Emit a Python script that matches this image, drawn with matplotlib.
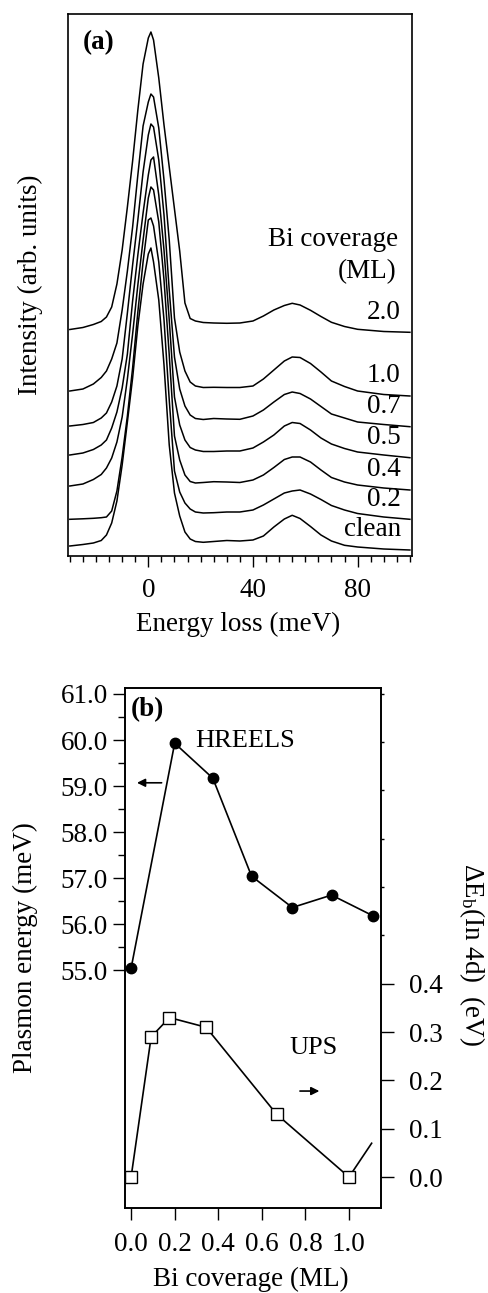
import matplotlib
matplotlib.use('Agg')
import matplotlib.pyplot as plt
from matplotlib.ticker import FixedLocator, NullLocator, MultipleLocator, FormatStrFormatter

plt.rcParams['font.family'] = ['Liberation Serif', 'DejaVu Serif']
plt.rcParams['mathtext.fontset'] = 'custom'
plt.rcParams['mathtext.rm'] = 'Liberation Serif'
plt.rcParams['mathtext.it'] = 'Liberation Serif:italic'
plt.rcParams['mathtext.bf'] = 'Liberation Serif:bold'

# ---------------- Panel (a) data: HREELS spectra (arb. units, offset) ----------------
energy_mev = [-30, -25, -21, -18, -16, -14, -12, -10, -8, -6, -4, -2, 0, 1, 2, 4, 6, 8,
              10, 12, 14, 16, 18, 21, 25, 30, 35, 40, 44, 48, 52, 55, 58, 62, 66, 70,
              75, 80, 90, 100]

spec_clean = [14, 15.5, 17, 19.5, 25, 37, 59, 95, 138, 182, 234, 276, 306, 312, 298, 260,
              195, 115, 67, 44, 28, 21, 18.5, 17.7, 18.5, 19.5, 19, 20, 24, 33, 41, 44.7,
              41.5, 33.5, 25, 19, 14.7, 13, 11, 10]
spec_02 = [40.7, 41.2, 41.7, 42.3, 43, 49, 69, 103, 144, 192, 248, 298, 340, 342, 334, 298,
           240, 160, 89, 68, 57, 51, 48, 47, 47.3, 48, 48, 50, 55, 61, 67, 69, 70, 66,
           60.5, 54.5, 50, 46.5, 43, 40.7]
spec_04 = [74, 76, 80.5, 85.5, 92, 102, 118, 143, 181, 226, 275, 320, 362, 373, 370, 338,
           280, 205, 124, 100, 85, 78.5, 77, 77.5, 78.3, 78, 77.5, 80, 85, 92.5, 100.5,
           103, 103, 98, 90, 82.5, 78, 75, 72, 70]
spec_05 = [105, 107, 110.5, 115, 120, 132, 148, 172, 206, 259, 305, 347, 385, 400, 403, 365,
           310, 240, 163, 135, 120, 112.5, 110, 108.5, 108.5, 109, 109, 112, 118, 125, 134,
           137.5, 136.5, 130, 122, 116, 111.5, 108, 105, 102.3]
spec_07 = [134, 135.5, 137.5, 142, 147, 158, 174, 201, 247, 295, 340, 388, 425, 436, 433, 400,
           345, 270, 203, 171, 154, 145, 141.5, 140.5, 141.5, 141, 140.7, 144, 150, 158,
           165.5, 168, 166.5, 161, 153.5, 146, 142, 138, 135.5, 133.3]
spec_10 = [169, 171, 176, 182.5, 189, 201, 217, 250, 289, 333, 385, 434, 458, 466, 463, 432,
           380, 320, 242, 208, 189, 178, 174, 172.5, 172.7, 172.5, 172.5, 174, 181, 190, 199,
           203, 202.5, 196.5, 188, 179, 173.5, 169, 165.5, 164]
spec_20 = [230.5, 232.5, 235.5, 238.5, 243, 253, 276, 310, 353, 399, 450, 496, 522, 528, 520,
           482, 435, 393, 351, 309, 257, 241.5, 239, 237.5, 237, 236.7, 237, 239, 244, 250,
           254.5, 256.7, 255, 249.7, 243.5, 237.7, 233.5, 230.7, 228.5, 227.7]

coverage_labels = ['clean', '0.2', '0.4', '0.5', '0.7', '1.0', '2.0']
spectra = [spec_clean, spec_02, spec_04, spec_05, spec_07, spec_10, spec_20]

# ---------------- Panel (b) data ----------------
hreels_cov = [0.0, 0.2, 0.375, 0.553, 0.74, 0.92, 1.11]
hreels_plasmon = [55.04, 59.93, 59.17, 57.04, 56.36, 56.63, 56.18]

ups_cov = [0.0, 0.092, 0.176, 0.344, 0.668, 1.0, 1.104]
ups_shift = [0.0, 0.29, 0.33, 0.31, 0.13, 0.0, 0.07]
ups_marked = 6  # number of points drawn with markers

FS = 19.5

fig = plt.figure(figsize=(4.88, 12.93), dpi=100)
W, H = 488.0, 1293.0

# ---------------- Panel (a) ----------------
ax1 = fig.add_axes([68 / W, 1 - 556 / H, (412 - 68) / W, (556 - 14) / H])
for s, lab in zip(spectra, coverage_labels):
    ax1.plot(energy_mev, s, color='black', lw=1.1, solid_joinstyle='round')
    ax1.text(96.5, s[-1] + 20, lab, ha='right', va='center', fontsize=FS)

ax1.set_xlim(-30.7, 100.8)
ax1.set_ylim(4, 546)
ax1.set_xticks([0, 40, 80])
ax1.xaxis.set_minor_locator(MultipleLocator(5))
ax1.yaxis.set_major_locator(NullLocator())
ax1.tick_params(axis='x', which='major', direction='out', length=8, width=1.0,
                labelsize=FS, pad=7.5)
ax1.tick_params(axis='x', which='minor', direction='out', length=4.5, width=1.0)
ax1.set_xlabel('Energy loss (meV)', fontsize=FS, va='center')
ax1.xaxis.set_label_coords(0.494, -0.126)
ax1.set_ylabel('Intensity (arb. units)', fontsize=FS, va='center')
ax1.yaxis.set_label_coords(-0.11, 0.5)
ax1.text(95.5, 320, 'Bi coverage', ha='right', va='center', fontsize=FS)
ax1.text(95.0, 288, '(ML)', ha='right', va='center', fontsize=FS)
ax1.text(-25, 517, '(a)', ha='left', va='center', fontsize=FS, fontweight='bold')
for sp in ax1.spines.values():
    sp.set_linewidth(1.2)

# ---------------- Panel (b) ----------------
ax2 = fig.add_axes([125 / W, 1 - 1208 / H, (381 - 125) / W, (1208 - 688) / H])
ax2.plot(hreels_cov, hreels_plasmon, color='black', lw=1.2, marker='o',
         markersize=7.5, markerfacecolor='black', markeredgecolor='black', zorder=3)
ax2.set_xlim(-0.028, 1.147)
ax2.set_ylim(49.83, 61.13)
ax2.yaxis.set_major_locator(FixedLocator([55, 56, 57, 58, 59, 60, 61]))
ax2.yaxis.set_minor_locator(FixedLocator([55.5, 56.5, 57.5, 58.5, 59.5, 60.5]))
ax2.yaxis.set_major_formatter(FormatStrFormatter('%.1f'))
ax2.set_xticks([0.0, 0.2, 0.4, 0.6, 0.8, 1.0])
ax2.xaxis.set_major_formatter(FormatStrFormatter('%.1f'))
ax2.tick_params(axis='y', which='major', direction='out', length=8.5, width=1.0,
                labelsize=FS, pad=4)
ax2.tick_params(axis='y', which='minor', direction='out', length=5, width=1.0)
ax2.tick_params(axis='x', which='major', direction='out', length=8.5, width=1.0,
                labelsize=FS, pad=9)
ax2.set_xlabel('Bi coverage (ML)', fontsize=FS, va='center')
ax2.xaxis.set_label_coords(0.492, -0.137)
ax2.set_ylabel('Plasmon energy (meV)', fontsize=FS, va='center')
ax2.yaxis.set_label_coords(-0.39, 0.5)
for sp in ax2.spines.values():
    sp.set_linewidth(1.2)

ax2.text(0.0, 60.67, '(b)', ha='left', va='center', fontsize=FS, fontweight='bold')
ax2.text(0.294, 59.98, 'HREELS', ha='left', va='center', fontsize=19)
ax2.annotate('', xy=(0.027, 59.07), xytext=(0.14, 59.07),
             arrowprops=dict(arrowstyle='-|>', color='black', lw=1.2,
                             mutation_scale=12, shrinkA=0, shrinkB=0))

ax3 = ax2.twinx()
ax3.plot(ups_cov, ups_shift, color='black', lw=1.2, zorder=2)
ax3.plot(ups_cov[:ups_marked], ups_shift[:ups_marked], linestyle='none', marker='s',
         markersize=8, markerfacecolor='white', markeredgecolor='black',
         markeredgewidth=1.0, zorder=3)
ax3.set_ylim(-0.064, 1.012)
ax3.yaxis.set_major_locator(FixedLocator([0.0, 0.1, 0.2, 0.3, 0.4]))
ax3.yaxis.set_minor_locator(FixedLocator([0.5, 0.6, 0.7, 0.8, 0.9, 1.0]))
ax3.yaxis.set_major_formatter(FormatStrFormatter('%.1f'))
ax3.tick_params(axis='y', which='major', direction='out', length=9, width=1.0,
                labelsize=FS, pad=11)
ax3.tick_params(axis='y', which='minor', direction='out', length=2, width=1.0)
ax3.set_ylabel(r'$\Delta$E$_\mathrm{b}$(In 4d)  (eV)', fontsize=FS, rotation=270,
               va='center')
ax3.yaxis.set_label_coords(1.355, 0.487)
ax3.text(0.729, 0.267, 'UPS', ha='left', va='center', fontsize=19)
ax3.annotate('', xy=(0.864, 0.178), xytext=(0.775, 0.178),
             arrowprops=dict(arrowstyle='-|>', color='black', lw=1.2,
                             mutation_scale=12, shrinkA=0, shrinkB=0))
for sp in ax3.spines.values():
    sp.set_linewidth(1.2)

fig.savefig('out.png', dpi=100)
